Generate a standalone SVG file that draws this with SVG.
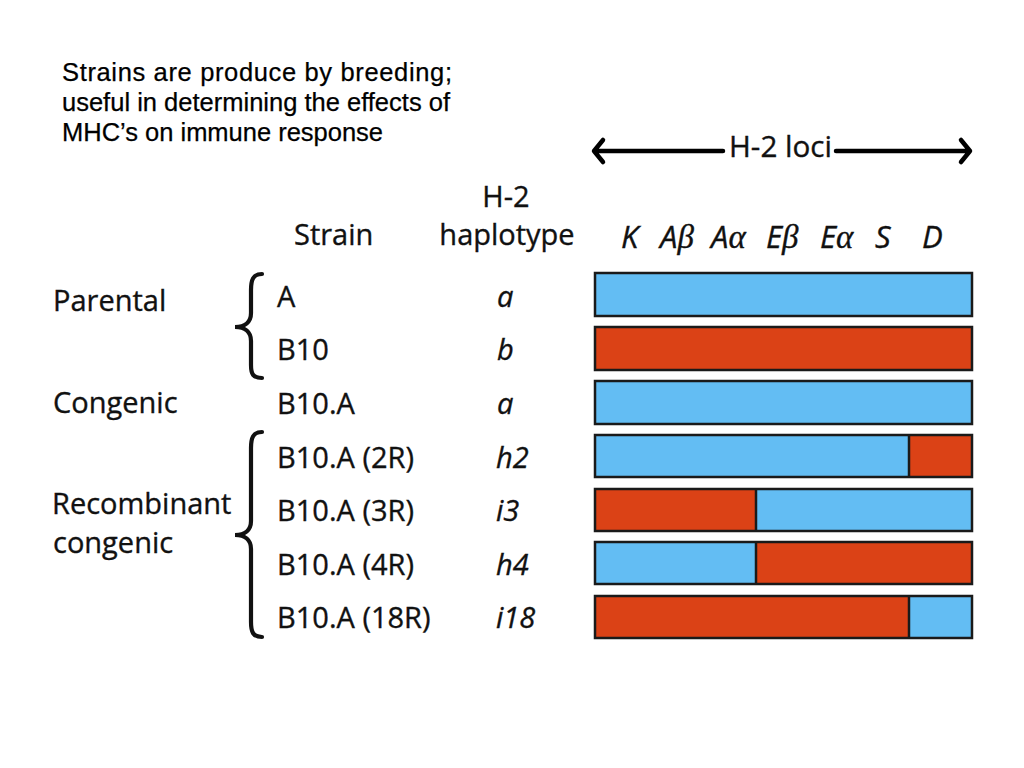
<svg xmlns="http://www.w3.org/2000/svg" width="1024" height="768" viewBox="0 0 1024 768">
<defs>
<style>
.note{font-family:"Liberation Sans",Arial,sans-serif;font-size:25.5px;fill:#000;stroke:#000;stroke-width:0.25}
.lab{font-family:"Open Sans","Noto Sans",sans-serif;font-size:29px;fill:#111;stroke:#111;stroke-width:0.35}
.it{font-family:"Open Sans","Noto Sans",sans-serif;font-size:29px;font-style:italic;fill:#111;stroke:#111;stroke-width:0.35}
.loc{font-size:31px}
.gr{font-family:"Liberation Serif","DejaVu Serif",serif;font-style:italic;font-size:33px}
.b{fill:#63bdf3}
.r{fill:#db4216}
.frame{fill:none;stroke:#1a1a1a;stroke-width:2.5}
.div{stroke:#1a1a1a;stroke-width:2.5}
.brace{fill:none;stroke:#111;stroke-width:4.2;stroke-linecap:round}
.arr{fill:none;stroke:#000;stroke-width:4.5;stroke-linecap:round;stroke-linejoin:round}
</style>
</defs>
<rect width="1024" height="768" fill="#fff"/>
<g id="note">
<text class="note" x="62" y="81" textLength="390" lengthAdjust="spacing">Strains are produce by breeding;</text>
<text class="note" x="62" y="111" textLength="388" lengthAdjust="spacing">useful in determining the effects of</text>
<text class="note" x="62" y="141" textLength="321" lengthAdjust="spacing">MHC’s on immune response</text>
</g>
<g id="connectors">
<path class="arr" d="M594,151 L723,151 M603,140 L594,151 L603,162"/>
<path class="arr" d="M836,151 L970,151 M961,140 L970,151 L961,162"/>
</g>
<g id="loci-header">
<text class="lab" x="729" y="157" textLength="103" lengthAdjust="spacingAndGlyphs">H-2 loci</text>
<text class="it loc" x="621" y="248">K</text>
<text class="it loc" x="660" y="248">A<tspan class="gr">β</tspan></text>
<text class="it loc" x="711" y="248">A<tspan class="gr">α</tspan></text>
<text class="it loc" x="766" y="248">E<tspan class="gr">β</tspan></text>
<text class="it loc" x="820" y="248">E<tspan class="gr">α</tspan></text>
<text class="it loc" x="875" y="248">S</text>
<text class="it loc" x="922" y="248">D</text>
</g>
<g id="col-headers">
<text class="lab" x="294" y="245">Strain</text>
<text class="lab" x="506" y="207" text-anchor="middle">H-2</text>
<text class="lab" x="507" y="245" text-anchor="middle">haplotype</text>
</g>
<g id="groups">
<text class="lab" x="53" y="311">Parental</text>
<text class="lab" x="53" y="413">Congenic</text>
<text class="lab" x="52" y="514">Recombinant</text>
<text class="lab" x="53" y="553">congenic</text>
<path class="brace" d="M262,274 C253,274 251,280 251,290 L251,313 C251,322 245,327 235,327 C245,327 251,332 251,341 L251,365 C251,374 253,378 262,378"/>
<path class="brace" d="M262,432 C253,432 251,438 251,448 L251,521 C251,530 245,535 235,535 C245,535 251,540 251,549 L251,622 C251,632 253,637 262,637"/>
</g>
<g id="row-A">
<text class="lab" x="277" y="307">A</text>
<text class="it" x="497" y="307">a</text>
<rect class="b" x="595" y="273" width="377" height="43"/>
<rect class="frame" x="595" y="273" width="377" height="43"/>
</g>
<g id="row-B10">
<text class="lab" x="277" y="360">B10</text>
<text class="it" x="497" y="360">b</text>
<rect class="r" x="595" y="327" width="377" height="43"/>
<rect class="frame" x="595" y="327" width="377" height="43"/>
</g>
<g id="row-B10A">
<text class="lab" x="277" y="414">B10.A</text>
<text class="it" x="497" y="414">a</text>
<rect class="b" x="595" y="381" width="377" height="43"/>
<rect class="frame" x="595" y="381" width="377" height="43"/>
</g>
<g id="row-2R">
<text class="lab" x="277" y="468">B10.A (2R)</text>
<text class="it" x="496" y="468">h2</text>
<rect class="b" x="595" y="435" width="314" height="42"/>
<rect class="r" x="909" y="435" width="63" height="42"/>
<line class="div" x1="909" y1="435" x2="909" y2="477"/>
<rect class="frame" x="595" y="435" width="377" height="42"/>
</g>
<g id="row-3R">
<text class="lab" x="277" y="521">B10.A (3R)</text>
<text class="it" x="496" y="521">i3</text>
<rect class="r" x="595" y="489" width="161" height="42"/>
<rect class="b" x="756" y="489" width="216" height="42"/>
<line class="div" x1="756" y1="489" x2="756" y2="531"/>
<rect class="frame" x="595" y="489" width="377" height="42"/>
</g>
<g id="row-4R">
<text class="lab" x="277" y="575">B10.A (4R)</text>
<text class="it" x="496" y="575">h4</text>
<rect class="b" x="595" y="542" width="161" height="42"/>
<rect class="r" x="756" y="542" width="216" height="42"/>
<line class="div" x1="756" y1="542" x2="756" y2="584"/>
<rect class="frame" x="595" y="542" width="377" height="42"/>
</g>
<g id="row-18R">
<text class="lab" x="277" y="628">B10.A (18R)</text>
<text class="it" x="496" y="628">i18</text>
<rect class="r" x="595" y="596" width="314" height="42"/>
<rect class="b" x="909" y="596" width="63" height="42"/>
<line class="div" x1="909" y1="596" x2="909" y2="638"/>
<rect class="frame" x="595" y="596" width="377" height="42"/>
</g>
</svg>
